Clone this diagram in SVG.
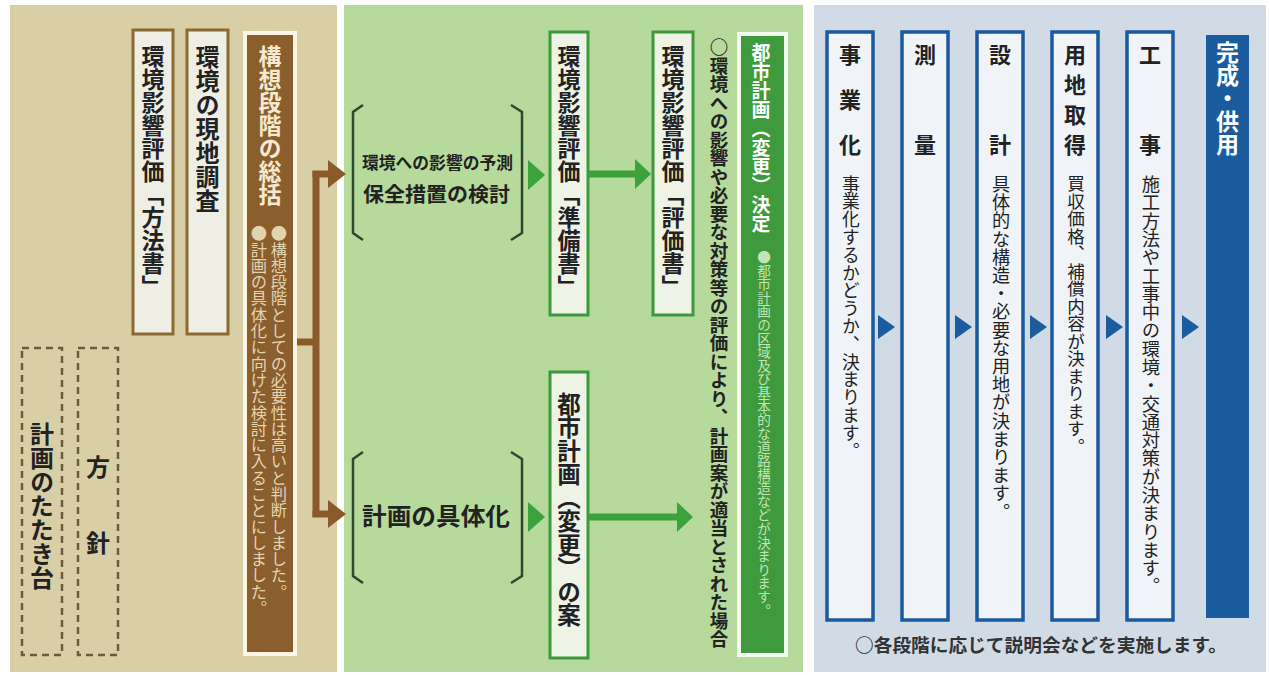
<svg xmlns="http://www.w3.org/2000/svg" width="1269" height="675" viewBox="0 0 1269 675">
<style>
.v{writing-mode:vertical-rl;font-family:"Noto Sans CJK JP","Noto Sans CJK SC",sans-serif;}
.h{font-family:"Noto Sans CJK JP","Noto Sans CJK SC",sans-serif;}
.b{font-weight:bold;}
.dk{fill:#222;}
.lbox{fill:#efeee4;stroke:#8a6a30;stroke-width:3;}
.gbox{fill:#eef3e6;stroke:#3c9a3c;stroke-width:3;}
.bbox{fill:#f0f4f8;stroke:#1a5a9e;stroke-width:3.5;}
.dash{fill:none;stroke:#6e5b3c;stroke-width:2.5;stroke-dasharray:7 5;}
.brk{fill:none;stroke:#2e4a2e;stroke-width:2.5;}
.btri{fill:#1a5c9e;}
.gtri{fill:#3ca23c;}
</style>
<rect x="0" y="0" width="1269" height="675" fill="#ffffff"/>
<!-- panels -->
<rect x="10" y="5" width="327" height="667" fill="#d9cfa7"/>
<rect x="344" y="5" width="459" height="667" fill="#b6d99c"/>
<rect x="814" y="5" width="452" height="667" fill="#d0dbe6"/>

<!-- left panel nodes -->
<g id="n-houhousho">
<rect class="lbox" x="133" y="30" width="40" height="304"/>
<text class="v b dk" x="153" y="45" font-size="23">環境影響評価「方法書」</text>
</g>
<g id="n-genchi">
<rect class="lbox" x="187" y="30" width="41" height="304"/>
<text class="v b dk" x="207.5" y="45" font-size="24">環境の現地調査</text>
</g>
<g id="n-kousou">
<rect x="243" y="31" width="54" height="625" fill="#fbf6e6"/>
<rect x="247" y="35" width="46" height="617" fill="#8b5e2e"/>
<text class="v b" x="270" y="45" font-size="23" fill="#f5ead0">構想段階の総括</text>
<text class="v" x="279" y="225" font-size="16.3" fill="#e3d4b0">●構想段階としての必要性は高いと判断しました。</text>
<text class="v" x="259" y="225" font-size="16.3" fill="#e3d4b0">●計画の具体化に向けた検討に入ることにしました。</text>
</g>
<g id="n-tatakidai">
<rect class="dash" x="22" y="348" width="40" height="307"/>
<text class="v b dk" x="42" y="422" font-size="24">計画のたたき台</text>
</g>
<g id="n-houshin">
<rect class="dash" x="78" y="348" width="40" height="307"/>
<text class="v b dk" x="98" y="455" font-size="24" letter-spacing="52">方針</text>
</g>

<!-- middle panel nodes -->
<g id="n-yosoku">
<path class="brk" d="M363 105 L353 112 V233 L363 240"/>
<path class="brk" d="M511 105 L522 112 V233 L511 240"/>
<text class="h b dk" x="362" y="169" font-size="17" textLength="151" lengthAdjust="spacingAndGlyphs">環境への影響の予測</text>
<text class="h b dk" x="363" y="202" font-size="20.5" textLength="147" lengthAdjust="spacingAndGlyphs">保全措置の検討</text>
</g>
<g id="n-junbisho">
<rect class="gbox" x="550" y="32" width="38" height="283"/>
<text class="v b dk" x="569" y="45" font-size="23">環境影響評価「準備書」</text>
</g>
<g id="n-hyoukasho">
<rect class="gbox" x="653" y="32" width="40" height="283"/>
<text class="v b dk" x="673" y="45" font-size="23">環境影響評価「評価書」</text>
</g>
<g id="n-gutaika">
<path class="brk" d="M363 452 L353 459 V576 L363 583"/>
<path class="brk" d="M511 452 L522 459 V576 L511 583"/>
<text class="h b dk" x="362" y="525" font-size="24" textLength="148" lengthAdjust="spacingAndGlyphs">計画の具体化</text>
</g>
<g id="n-an">
<rect class="gbox" x="550" y="372" width="38" height="286"/>
<text class="v b dk" x="569" y="392" font-size="23.5">都市計画（変更）の案</text>
</g>
<g id="n-note">
<text class="v b dk" x="719" y="38" font-size="18.5">○環境への影響や必要な対策等の評価により、計画案が適当とされた場合</text>
</g>
<g id="n-kettei">
<rect x="737" y="32" width="51" height="625" fill="#f4f9ee"/>
<rect x="741" y="36" width="43" height="617" fill="#3e9a3c"/>
<text class="v b" x="761" y="43" font-size="19" fill="#ffffff">都市計画（変更）決定</text>
<text class="v" x="764" y="250" font-size="13.6" fill="#c4e3b4">●都市計画の区域及び基本的な道路構造などが決まります。</text>
</g>

<!-- right panel nodes -->
<g id="n-jigyouka">
<rect class="bbox" x="827" y="32" width="46" height="588"/>
<text class="v b dk" x="850" y="44" font-size="22" letter-spacing="23">事業化</text>
<text class="v dk" x="851" y="175" font-size="17.8">事業化するかどうか、決まります。</text>
</g>
<g id="n-sokuryou">
<rect class="bbox" x="902" y="32" width="46" height="588"/>
<text class="v b dk" x="925" y="44" font-size="22" letter-spacing="68">測量</text>
</g>
<g id="n-sekkei">
<rect class="bbox" x="977" y="32" width="46" height="588"/>
<text class="v b dk" x="1000" y="44" font-size="22" letter-spacing="68">設計</text>
<text class="v dk" x="1001" y="175" font-size="18.2">具体的な構造・必要な用地が決まります。</text>
</g>
<g id="n-youchi">
<rect class="bbox" x="1052" y="32" width="46" height="588"/>
<text class="v b dk" x="1075" y="44" font-size="22" letter-spacing="8">用地取得</text>
<text class="v dk" x="1076" y="175" font-size="17.5">買収価格、補償内容が決まります。</text>
</g>
<g id="n-kouji">
<rect class="bbox" x="1127" y="32" width="46" height="588"/>
<text class="v b dk" x="1150" y="44" font-size="22" letter-spacing="68">工事</text>
<text class="v dk" x="1151" y="175" font-size="18.3">施工方法や工事中の環境・交通対策が決まります。</text>
</g>
<g id="n-kansei">
<rect x="1206" y="35" width="43" height="583" fill="#1a5c9e"/>
<text class="v b" x="1227.5" y="41" font-size="23" fill="#ffffff">完成・供用</text>
</g>
<g id="n-setsumei">
<text class="h b" x="855" y="652" font-size="18.5" fill="#333" textLength="372" lengthAdjust="spacingAndGlyphs">○各段階に応じて説明会などを実施します。</text>
</g>

<!-- connectors -->
<g id="connectors">
<g fill="none" stroke="#8b5a2b" stroke-width="7">
<path d="M297 342 H316"/>
<path d="M316 171 V517"/>
<path d="M312.5 174 H332"/>
<path d="M312.5 514 H332"/>
</g>
<polygon points="328,160 346,174 328,188" fill="#8b5a2b"/>
<polygon points="328,500 346,514 328,528" fill="#8b5a2b"/>
<polygon class="gtri" points="528,160 545,175 528,190"/>
<polygon class="gtri" points="528,502 545,517 528,532"/>
<path d="M589 174 H638" stroke="#3ca23c" stroke-width="7" fill="none"/>
<polygon class="gtri" points="635,159 651,174 635,189"/>
<path d="M589 517 H680" stroke="#3ca23c" stroke-width="7" fill="none"/>
<polygon class="gtri" points="677,502 693,517 677,532"/>
<polygon class="btri" points="878,315 895,327 878,339"/>
<polygon class="btri" points="955,315 972,327 955,339"/>
<polygon class="btri" points="1030,315 1047,327 1030,339"/>
<polygon class="btri" points="1106,315 1123,327 1106,339"/>
<polygon class="btri" points="1182,315 1199,327 1182,339"/>
</g>
</svg>
